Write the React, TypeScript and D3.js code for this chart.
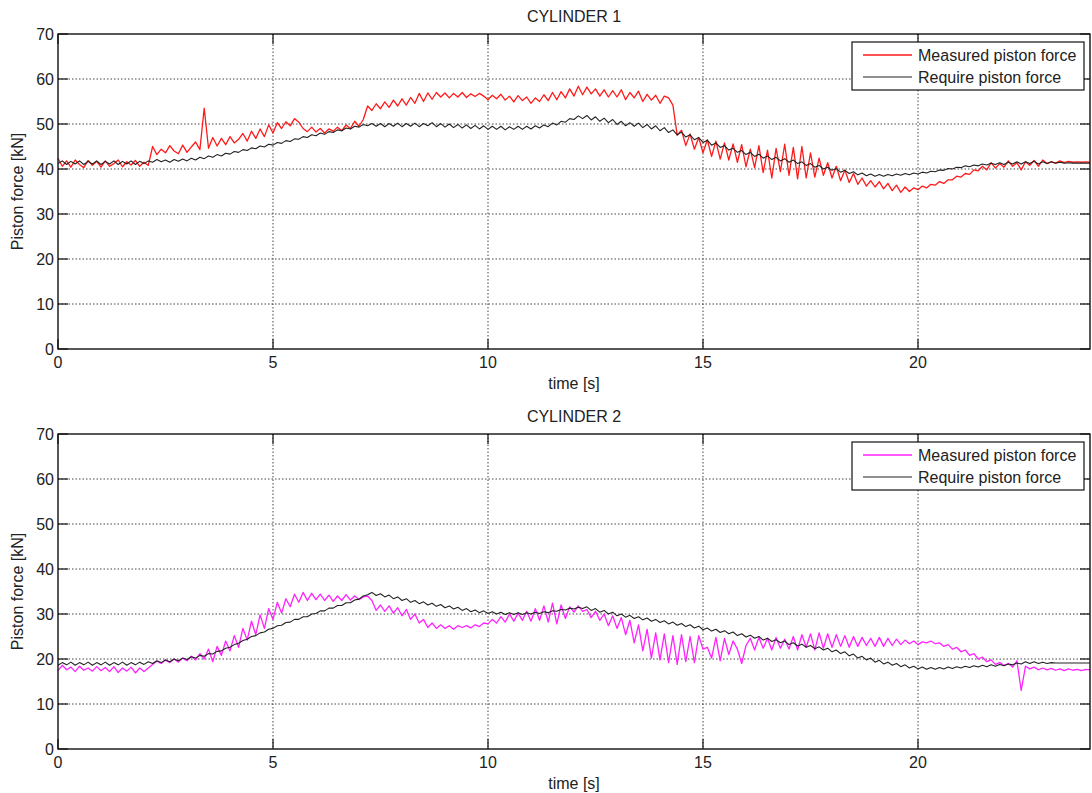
import React from "react";
import * as d3 from "d3";

// Sampling step of the logged signals, in seconds
const DT = 0.1;

// Cylinder 1 – measured piston force [kN], one value per 0.1 s from 0 to 24 s
const cyl1Measured = [
  42.4, 40.6, 41.8, 40.4, 42.0, 41.0, 40.3, 41.9, 40.8, 41.7,
  40.4, 41.8, 40.6, 41.2, 42.0, 40.5, 41.6, 40.9, 41.9, 40.6,
  41.5, 40.8, 45.0, 43.2, 44.4, 43.6, 45.2, 44.0, 43.4, 45.3,
  43.7, 44.9, 46.0, 44.3, 53.5, 44.6, 47.0, 45.1, 46.8, 45.4,
  47.2, 45.8, 46.6, 47.9, 46.2, 48.4, 46.8, 48.9, 47.2, 49.8,
  48.0, 50.3, 49.0, 50.5, 49.6, 51.2, 50.4, 49.0, 48.3, 49.3,
  48.2, 49.0, 48.0, 48.9, 48.4, 49.3, 48.5, 49.8, 49.0, 50.6,
  49.5, 51.0, 54.0, 53.0, 54.5, 53.4, 54.9, 53.7, 55.3, 54.0,
  55.6, 54.2, 55.9, 54.6, 56.8, 55.0, 56.9, 55.5, 57.0, 56.0,
  56.9, 55.8, 56.8, 56.0, 57.0, 55.9, 56.7, 56.1, 56.8, 56.2,
  55.4, 56.4, 55.6, 56.6, 55.3, 56.2, 54.9, 56.3, 55.2, 56.0,
  54.6, 55.8, 55.0, 56.5, 55.2, 57.0, 55.4, 57.2, 55.8, 57.8,
  56.2, 58.4, 56.5, 58.2, 56.7, 57.8, 56.2, 57.6, 56.0, 57.4,
  56.0, 57.6, 55.4, 57.0, 55.8, 57.3, 55.0, 56.6, 55.3, 56.4,
  54.6, 56.2, 55.8, 54.2, 47.5, 48.6, 45.2, 47.8, 44.4, 47.0,
  43.6, 46.5, 42.8, 46.2, 42.2, 45.8, 42.0, 45.6, 41.5, 45.4,
  40.5, 44.4, 40.3, 45.2, 39.2, 44.2, 38.0, 44.6, 39.4, 45.5,
  38.6, 44.8, 37.8, 45.0, 38.0, 43.6, 38.2, 42.4, 38.6, 41.4,
  38.0, 40.6, 37.4, 39.8, 37.0, 39.0, 36.6, 38.0, 36.2, 37.4,
  36.0, 37.2, 35.6, 36.8, 35.2, 36.4, 34.8, 36.0, 35.0, 35.8,
  35.4, 36.2, 35.8, 36.6, 36.4, 37.2, 36.8, 37.6, 37.6, 38.4,
  38.2, 39.0, 38.8, 39.8, 39.6, 40.6, 39.8, 41.4, 40.2, 41.2,
  40.4, 41.8, 40.6, 41.4, 39.8, 41.6, 40.8, 41.9, 40.6, 42.0,
  41.2, 41.6, 41.3, 41.8, 41.4, 41.7, 41.5, 41.6, 41.5, 41.6,
  41.5,
];

// Cylinder 1 – required piston force [kN]
const cyl1Required = [
  41.2, 41.8, 41.0, 41.7, 41.1, 41.8, 41.0, 41.7, 41.1, 41.8,
  41.0, 41.7, 41.1, 41.8, 41.0, 41.7, 41.1, 41.8, 41.0, 41.7,
  41.2, 41.8, 41.5, 42.1, 41.6, 42.0, 41.5, 42.1, 41.7, 42.2,
  41.8, 42.4, 42.0, 42.6, 42.3, 42.9, 42.6, 43.2, 42.9, 43.5,
  43.3, 43.9, 43.7, 44.3, 44.1, 44.7, 44.5, 45.1, 44.9, 45.5,
  45.3, 45.9, 45.7, 46.3, 46.1, 46.7, 46.6, 47.2, 47.0, 47.6,
  47.4, 48.0, 47.7, 48.3, 48.1, 48.7, 48.5, 49.1, 48.9, 49.5,
  49.3, 49.9, 49.6, 50.1, 49.5, 50.1, 49.4, 50.1, 49.5, 50.2,
  49.4, 50.1, 49.5, 50.2, 49.4, 50.1, 49.6, 50.3, 49.4, 50.1,
  49.3, 50.0, 49.2, 49.9, 49.1, 49.8, 49.0, 49.7, 48.9, 49.6,
  48.8, 49.5, 48.8, 49.5, 48.7, 49.4, 48.8, 49.5, 48.8, 49.5,
  48.9, 49.6, 49.1, 49.8, 49.4, 50.2, 49.8, 50.6, 50.4, 51.2,
  51.0, 51.8, 51.2, 51.9, 50.9, 51.6, 50.6, 51.3, 50.3, 51.0,
  49.9, 50.6, 49.6, 50.3, 49.5, 50.2, 49.2, 49.9, 48.9, 49.6,
  48.5, 49.2, 48.1, 48.7, 47.6, 48.2, 47.1, 47.6, 46.5, 47.0,
  45.9, 46.4, 45.3, 45.8, 44.8, 45.2, 44.2, 44.6, 43.7, 44.1,
  43.2, 43.7, 42.8, 43.3, 42.4, 42.9, 42.1, 42.6, 41.8, 42.3,
  41.5, 42.0, 41.2, 41.6, 40.8, 41.2, 40.4, 40.8, 40.0, 40.4,
  39.7, 40.1, 39.3, 39.7, 39.0, 39.4, 38.7, 39.1, 38.5, 38.9,
  38.4, 38.8, 38.4, 38.8, 38.5, 38.9, 38.6, 39.0, 38.7, 39.1,
  38.9, 39.3, 39.1, 39.5, 39.4, 39.8, 39.7, 40.1, 40.0, 40.4,
  40.3, 40.7, 40.5, 40.9, 40.7, 41.1, 40.9, 41.3, 41.0, 41.4,
  41.0, 41.5, 41.1, 41.6, 41.1, 41.6, 41.2, 41.7, 41.1, 41.6,
  41.2, 41.6, 41.3, 41.5, 41.3, 41.4, 41.3, 41.3, 41.3, 41.3,
  41.3,
];

// Cylinder 2 – measured piston force [kN]
const cyl2Measured = [
  17.4, 18.6, 17.6, 18.2, 17.2, 18.4, 17.5, 18.0, 17.3, 18.3,
  17.4, 18.1, 17.2, 18.3, 17.0, 18.0, 17.3, 18.2, 16.9, 18.0,
  17.2, 18.0, 18.8, 19.5, 19.0, 19.8, 19.2, 20.0, 19.3, 20.2,
  19.6, 20.6, 19.8, 21.2, 20.0, 22.2, 19.4, 22.8, 20.8, 24.0,
  21.8, 25.2, 22.6, 26.8, 24.2, 28.4, 25.4, 29.8, 26.8, 31.2,
  28.8, 32.6, 30.2, 33.4, 31.6, 34.4, 32.6, 34.8, 33.0, 34.6,
  33.2, 34.4, 33.0, 34.2, 32.8, 34.0, 33.0, 34.3, 33.1, 34.0,
  33.2, 33.8, 34.0, 33.0, 30.8, 32.0, 30.6, 31.8, 30.2, 31.4,
  29.6, 31.0, 28.8, 30.0, 28.0, 28.8, 27.0, 28.0, 26.8, 27.6,
  26.8, 27.4, 26.6, 27.4, 27.0, 27.4, 26.9, 27.6, 27.2, 28.0,
  27.8, 28.8, 28.0, 29.4, 28.2, 30.0, 28.4, 30.2, 28.6, 30.6,
  28.4, 31.2, 28.6, 31.8, 28.2, 32.4, 27.8, 32.0, 29.0, 31.6,
  30.4, 31.8, 30.6, 31.0, 29.2, 30.6, 28.6, 30.0, 27.4, 29.6,
  26.8, 29.2, 25.4, 28.6, 23.6, 27.6, 21.8, 26.6, 20.2, 25.8,
  19.8, 25.6, 19.2, 25.2, 18.8, 25.4, 19.4, 25.0, 19.2, 25.2,
  22.2, 22.6, 20.2, 24.8, 19.6, 24.6, 21.0, 24.0, 22.2, 19.0,
  23.0, 24.6, 22.0, 24.8, 22.4, 24.6, 22.0, 24.8, 22.4, 24.4,
  22.2, 25.0, 22.0, 25.4, 22.6, 25.6, 22.0, 25.8, 22.4, 25.6,
  22.6, 25.4, 22.8, 25.2, 22.6, 25.0, 22.8, 24.8, 23.0, 24.6,
  22.8, 24.8, 22.8, 24.6, 23.0, 24.4, 23.2, 24.2, 23.4, 24.0,
  23.2, 23.8, 23.6, 24.0, 23.4, 23.6, 22.8, 23.2, 22.2, 22.6,
  21.6, 22.0, 20.8, 21.2, 20.0, 20.4, 19.4, 19.8, 18.8, 19.2,
  18.6, 19.0, 18.2, 19.6, 13.0, 18.4, 17.8, 18.2, 17.6, 18.0,
  17.6, 17.9, 17.5, 17.8, 17.4, 17.8, 17.5, 17.7, 17.4, 17.7,
  17.6,
];

// Cylinder 2 – required piston force [kN]
const cyl2Required = [
  18.6, 19.2, 18.7, 19.3, 18.6, 19.2, 18.7, 19.3, 18.6, 19.2,
  18.7, 19.3, 18.6, 19.2, 18.7, 19.3, 18.6, 19.2, 18.7, 19.3,
  18.8, 19.4, 19.0, 19.6, 19.2, 19.8, 19.4, 20.0, 19.6, 20.2,
  19.9, 20.5, 20.2, 20.8, 20.6, 21.2, 21.1, 21.7, 21.8, 22.4,
  22.6, 23.2, 23.5, 24.1, 24.4, 25.0, 25.2, 25.8, 26.0, 26.6,
  26.8, 27.4, 27.5, 28.1, 28.2, 28.8, 28.8, 29.4, 29.4, 30.0,
  30.1, 30.7, 30.7, 31.3, 31.3, 31.9, 31.9, 32.5, 32.5, 33.1,
  33.3, 34.0, 34.3, 34.8, 34.1, 34.5, 33.8, 34.2, 33.4, 33.8,
  33.0, 33.4, 32.6, 33.0, 32.3, 32.7, 32.0, 32.4, 31.7, 32.1,
  31.4, 31.8, 31.1, 31.5, 30.8, 31.2, 30.5, 30.9, 30.3, 30.7,
  30.1, 30.5, 30.0, 30.4, 29.9, 30.3, 29.9, 30.3, 29.9, 30.3,
  30.0, 30.4, 30.1, 30.5, 30.3, 30.7, 30.6, 31.0, 30.9, 31.3,
  31.1, 31.5, 31.2, 31.6, 30.8, 31.2, 30.4, 30.8, 30.0, 30.4,
  29.6, 30.0, 29.3, 29.7, 29.0, 29.4, 28.7, 29.1, 28.4, 28.8,
  28.1, 28.5, 27.8, 28.2, 27.5, 27.9, 27.2, 27.6, 26.9, 27.3,
  26.5, 26.9, 26.2, 26.6, 25.9, 26.3, 25.6, 26.0, 25.2, 25.6,
  24.9, 25.3, 24.6, 25.0, 24.2, 24.6, 23.9, 24.3, 23.6, 24.0,
  23.2, 23.6, 22.9, 23.3, 22.6, 23.0, 22.3, 22.7, 22.0, 22.4,
  21.6, 22.0, 21.2, 21.6, 20.7, 21.1, 20.2, 20.6, 19.8, 20.2,
  19.3, 19.7, 18.9, 19.3, 18.6, 19.0, 18.3, 18.7, 18.0, 18.4,
  17.8, 18.2, 17.7, 18.1, 17.7, 18.1, 17.8, 18.2, 17.9, 18.3,
  18.0, 18.4, 18.1, 18.5, 18.2, 18.6, 18.3, 18.7, 18.4, 18.8,
  18.5, 18.9, 18.7, 19.1, 18.9, 19.4, 19.0, 19.4, 19.0, 19.3,
  19.0, 19.2, 19.1, 19.1, 19.1, 19.1, 19.1, 19.1, 19.1, 19.1,
  19.1,
];

const xTicks = [0, 5, 10, 15, 20];
const yTicks = [0, 10, 20, 30, 40, 50, 60, 70];
const legendLabels = ["Measured piston force", "Require piston force"];

const panels = [
  { title: "CYLINDER 1", measured: cyl1Measured, required: cyl1Required, color: "#ff1a1a" },
  { title: "CYLINDER 2", measured: cyl2Measured, required: cyl2Required, color: "#ff22ff" },
];

const W = 1092;
const H = 793;
const FONT = "'Liberation Sans', Arial, Helvetica, sans-serif";
const left = 58;
const right = 1090;
const panelTop = [34, 434];
const plotH = 315;
const TICK = 10;

function Panel({ p, top }: { p: typeof panels[number]; top: number }) {
  const x = d3.scaleLinear().domain([0, 24]).range([left, right]);
  const y = d3.scaleLinear().domain([0, 70]).range([top + plotH, top]);
  const line = d3
    .line<number>()
    .x((_, i) => x(i * DT))
    .y((d) => y(d));
  const bottom = top + plotH;
  const legX = 852;
  const legY = top + 8;
  return (
    <g>
      {/* grid */}
      {xTicks.filter((t) => t > 0).map((t) => (
        <line key={"gx" + t} x1={x(t)} x2={x(t)} y1={top} y2={bottom}
          stroke="#444" strokeWidth={1} strokeDasharray="1.5,2" />
      ))}
      {yTicks.filter((t) => t > 0 && t < 70).map((t) => (
        <line key={"gy" + t} x1={left} x2={right} y1={y(t)} y2={y(t)}
          stroke="#444" strokeWidth={1} strokeDasharray="1.5,2" />
      ))}
      {/* series */}
      <path d={line(p.measured) ?? ""} fill="none" stroke={p.color} strokeWidth={1.3} strokeLinejoin="round" />
      <path d={line(p.required) ?? ""} fill="none" stroke="#222" strokeWidth={1.1} strokeLinejoin="round" />
      {/* box */}
      <rect x={left} y={top} width={right - left} height={plotH} fill="none" stroke="#111" strokeWidth={1.4} />
      {/* ticks */}
      {xTicks.map((t) => (
        <g key={"tx" + t}>
          <line x1={x(t)} x2={x(t)} y1={bottom} y2={bottom - TICK} stroke="#111" strokeWidth={1.2} />
          <line x1={x(t)} x2={x(t)} y1={top} y2={top + TICK} stroke="#111" strokeWidth={1.2} />
          <text x={x(t)} y={bottom + 19} textAnchor="middle" fontSize={16} fontFamily={FONT} fill="#222">{t}</text>
        </g>
      ))}
      {yTicks.map((t) => (
        <g key={"ty" + t}>
          <line x1={left} x2={left + TICK} y1={y(t)} y2={y(t)} stroke="#111" strokeWidth={1.2} />
          <line x1={right} x2={right - TICK} y1={y(t)} y2={y(t)} stroke="#111" strokeWidth={1.2} />
          <text x={left - 4} y={y(t) + 6} textAnchor="end" fontSize={16} fontFamily={FONT} fill="#222">{t}</text>
        </g>
      ))}
      {/* labels */}
      <text x={(left + right) / 2} y={top - 12} textAnchor="middle" fontSize={16} fontFamily={FONT} fill="#222">{p.title}</text>
      <text x={(left + right) / 2} y={bottom + 40} textAnchor="middle" fontSize={16} fontFamily={FONT} fill="#222">time [s]</text>
      <text transform={`translate(23,${top + plotH / 2}) rotate(-90)`} textAnchor="middle" fontSize={16} fontFamily={FONT} fill="#222">Piston force [kN]</text>
      {/* legend */}
      <rect x={legX} y={legY} width={232} height={48} fill="#fff" stroke="#111" strokeWidth={1.2} />
      {legendLabels.map((lab, i) => (
        <g key={lab}>
          <line x1={legX + 11} x2={legX + 60} y1={legY + 13 + i * 22} y2={legY + 13 + i * 22}
            stroke={i === 0 ? p.color : "#222"} strokeWidth={i === 0 ? 1.3 : 1.1} />
          <text x={legX + 66} y={legY + 19 + i * 22} fontSize={16} fontFamily={FONT} fill="#222">{lab}</text>
        </g>
      ))}
    </g>
  );
}

export default function App() {
  return (
    <svg width={W} height={H} style={{ position: "absolute", left: 0, top: 0, background: "#fff" }}>
      <rect width={W} height={H} fill="#fff" />
      {panels.map((p, i) => (
        <Panel key={p.title} p={p} top={panelTop[i]} />
      ))}
    </svg>
  );
}
